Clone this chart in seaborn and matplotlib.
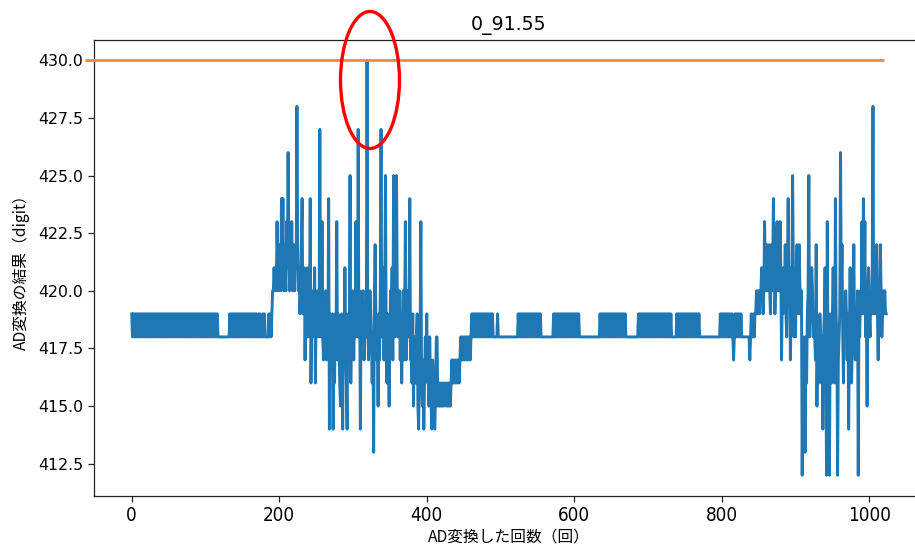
import numpy as np
import pandas as pd
import matplotlib
matplotlib.use("Agg")
import matplotlib.pyplot as plt
from matplotlib.patches import Ellipse
from matplotlib import font_manager
from matplotlib.font_manager import FontProperties
import seaborn as sns

# ---- text ----
title_text = "0_91.55"
x_label = "AD変換した回数（回）"
y_label = "AD変換の結果（digit）"
limit_value = 430

# ---- A/D conversion results (digit), one value per conversion ----
# conversions 0-189: quiet baseline
baseline_start = [
    419, 418, 419, 418, 419, 418, 419, 418, 419, 418,
    419, 418, 419, 418, 419, 418, 419, 418, 419, 418,
    419, 418, 419, 418, 419, 418, 419, 418, 419, 418,
    419, 418, 419, 418, 419, 418, 419, 418, 419, 418,
    419, 418, 419, 418, 419, 418, 419, 418, 419, 418,
    419, 418, 419, 418, 419, 418, 419, 418, 419, 418,
    419, 418, 419, 418, 419, 418, 419, 418, 419, 418,
    419, 418, 419, 418, 419, 418, 419, 418, 419, 418,
    419, 418, 419, 418, 419, 418, 419, 418, 419, 418,
    419, 418, 419, 418, 419, 418, 419, 418, 419, 418,
    419, 418, 419, 418, 419, 418, 419, 418, 419, 418,
    419, 418, 419, 418, 419, 418, 419,
    418, 418, 418, 418, 418, 418, 418, 418, 418, 418, 418, 418, 418, 418, 418, 418,
    419, 418,
    419, 418, 419, 418, 419, 418, 419, 418, 419, 418,
    419, 418, 419, 418, 419, 418, 419, 418, 419, 418,
    419, 418, 419, 418, 419, 418, 419, 418, 419, 418,
    419,
    418, 419, 418, 419, 418, 418, 419, 418, 419, 418,
    418, 418, 419, 418, 419, 418, 418, 418, 418, 418,
    419, 418, 419, 418,
]

# conversions 190-459: first disturbance
burst_first = [
    419, 420, 420, 421, 420, 421, 420, 423, 421, 420,
    422, 421, 420, 424, 421, 424, 420, 422, 421, 420,
    423, 421, 426, 422, 420, 421, 421, 423, 420, 422,
    421, 420, 422, 421, 428, 422, 420, 421, 419, 420,
    422, 424, 419, 420, 421, 417, 420, 419, 421, 418,
    420, 419, 424, 416, 419, 418, 420, 419, 421, 416,
    419, 418, 420, 419, 418, 427, 419, 418, 423, 418,
    417, 419, 418, 420, 417, 419, 418, 424, 414, 419,
    418, 417, 419, 414, 418, 416, 419, 418, 423, 417,
    419, 418, 416, 415, 418, 419, 414, 418, 417, 421,
    418, 416, 414, 419, 417, 418, 425, 416, 419, 418,
    420, 417, 419, 418, 423, 419, 418, 427, 418, 420,
    414, 419, 418, 420, 420, 417, 418, 419, 418, 430,
    419, 417, 418, 420, 419, 418, 416, 418, 413, 420,
    422, 419, 417, 418, 415, 419, 417, 420, 427, 418,
    419, 421, 417, 420, 425, 418, 416, 419, 417, 415,
    418, 420, 419, 421, 417, 425, 420, 418, 419, 425,
    420, 418, 419, 420, 417, 419, 416, 418, 420, 417,
    419, 423, 417, 418, 420, 418, 419, 424, 417, 418,
    416, 419, 415, 418, 417, 416, 418, 419, 415, 414,
    417, 418, 423, 416, 415, 417, 414, 416, 418, 417,
    419, 416, 417, 415, 418, 416, 415, 414, 417, 416,
    415, 414, 416, 418, 418, 415, 416, 415, 416, 415,
    416, 415, 416, 415, 416, 416, 415, 416, 415, 416,
    415, 416, 415, 416, 417, 416, 417, 416, 417, 416,
    417, 416, 417, 417, 416, 417, 418, 417, 418, 417,
    418, 417, 418, 418, 417, 418, 417, 418, 418, 417,
]

# conversions 460-849: settled baseline
baseline_mid = [
    418,
    419, 418, 419, 418, 419, 418, 419, 418, 419, 418,
    419, 418, 419, 418, 419, 418, 419, 418, 419, 418,
    419, 418, 419, 418, 419, 418, 419, 418, 419, 418,
    418, 418, 418, 418, 418,
    419,
    418, 418, 418, 418, 418, 418, 418, 418, 418, 418,
    418, 418, 418, 418, 418, 418, 418, 418, 418, 418,
    418, 418, 418, 418, 418, 418, 418,
    419, 418, 419, 418, 419, 418, 419, 418, 419, 418,
    419, 418, 419, 418, 419, 418, 419, 418, 419, 418,
    419, 418, 419, 418, 419, 418, 419, 418, 419, 418,
    419, 418,
    418, 418, 418, 418, 418, 418, 418, 418, 418, 418,
    418, 418, 418, 418, 418, 418,
    419, 418, 419, 418, 419, 418, 419, 418, 419, 418,
    419, 418, 419, 418, 419, 418, 419, 418, 419, 418,
    419, 418, 419, 418, 419, 418, 419, 418, 419, 418,
    419, 418, 419, 418, 419, 418,
    418, 418, 418, 418, 418, 418, 418, 418, 418, 418,
    418, 418, 418, 418, 418, 418, 418, 418, 418, 418,
    418, 418, 418, 418, 418, 418, 418,
    419, 418, 419, 418, 419, 418, 419, 418, 419, 418,
    419, 418, 419, 418, 419, 418, 419, 418, 419, 418,
    419, 418, 419, 418, 419, 418, 419, 418, 419, 418,
    419, 418, 419, 418, 419, 418,
    418, 418, 418, 418, 418, 418, 418, 418, 418, 418,
    418, 418, 418, 418, 418, 418,
    419, 418, 419, 418, 419, 418, 419, 418, 419, 418,
    419, 418, 419, 418, 419, 418, 419, 418, 419, 418,
    419, 418, 419, 418, 419, 418, 419, 418, 419, 418,
    419, 418, 419, 418, 419, 418, 419, 418, 419, 418,
    419, 418, 419, 418, 419,
    418, 418, 418, 418, 418, 418, 418,
    419, 418, 419, 418, 419, 418, 419, 418, 419, 418,
    419, 418, 419, 418, 419, 418, 419, 418, 419, 418,
    419, 418, 419, 418, 419, 418, 419, 418, 419, 418,
    419, 418,
    418, 418, 418, 418, 418, 418, 418, 418, 418, 418,
    418, 418, 418, 418, 418, 418, 418, 418, 418, 418,
    418, 418, 418, 418, 418, 418, 418,
    419, 418, 419, 418, 419, 418, 419, 418, 419, 418,
    419, 418, 419, 418, 419, 418, 419, 418, 417, 418,
    419, 418, 419, 418, 419, 418, 419, 418, 419, 418,
    418, 418, 418, 418, 418, 418, 418, 418, 418, 418,
    417,
    418, 419, 418, 418, 419, 418, 419,
    419, 420, 419, 420,
]

# conversions 850-1023: second disturbance
burst_second = [
    420, 419, 420, 420, 421, 420, 419, 420, 423, 421,
    420, 422, 420, 421, 422, 420, 419, 422, 420, 421,
    424, 421, 419, 420, 422, 423, 420, 421, 420, 423,
    421, 417, 420, 419, 421, 420, 422, 419, 418, 421,
    424, 420, 421, 417, 419, 420, 425, 421, 418, 420,
    418, 421, 422, 420, 419, 422, 420, 419, 420, 412,
    417, 418, 416, 413, 418, 416, 419, 420, 425, 418,
    419, 420, 421, 420, 418, 419, 418, 417, 422, 415,
    418, 416, 417, 419, 418, 416, 418, 414, 418, 419,
    421, 418, 412, 423, 417, 418, 412, 419, 417, 416,
    419, 421, 418, 416, 424, 419, 418, 412, 417, 418,
    419, 426, 420, 422, 418, 416, 419, 418, 420, 419,
    417, 419, 414, 418, 421, 417, 416, 418, 419, 422,
    418, 417, 419, 418, 420, 412, 419, 418, 420, 419,
    423, 419, 424, 420, 423, 418, 419, 415, 420, 421,
    419, 418, 420, 419, 421, 428, 419, 420, 419, 420,
    422, 419, 417, 420, 419, 422, 420, 418, 419, 420,
    419, 420, 419, 419,
]

readings = baseline_start + burst_first + baseline_mid + burst_second
df = pd.DataFrame({"count": np.arange(len(readings)), "result": readings})

# ---- fonts ----
plt.rcParams["font.family"] = ["DejaVu Sans", "Noto Sans CJK JP"]
jp_font = ["Noto Sans CJK JP", "DejaVu Sans"]


def narrow_tick_font(size):
    """Pick a condensed face for the count tick labels if one is installed."""
    for entry in font_manager.fontManager.ttflist:
        fname = entry.fname.lower().replace("-", "")
        if "liberationsansnarrowregular" in fname or fname.endswith("dejavusanscondensed.ttf"):
            return FontProperties(fname=entry.fname, size=size)
    return FontProperties(family="Noto Sans CJK JP", size=size - 1)


W, H = 915, 550
fig = plt.figure(figsize=(W / 100, H / 100), dpi=100)
fig.patch.set_facecolor("white")
# axes box runs a little past the right edge of the canvas
ax = fig.add_axes([94 / W, 54 / H, 830 / W, 456.5 / H])

sns.lineplot(data=df, x="count", y="result", ax=ax, color="#1f77b4",
             linewidth=2.1, estimator=None)

# limit line at the upper value
ax.plot([-64, 1020], [limit_value, limit_value], color="#f5873f",
        linewidth=2.0, clip_on=False, solid_capstyle="butt", zorder=5)

ax.set_xlim(-51.15, 1074.15)
ax.set_ylim(411.1, 430.9)
ax.set_xticks([0, 200, 400, 600, 800, 1000])
ax.set_yticks([412.5, 415.0, 417.5, 420.0, 422.5, 425.0, 427.5, 430.0])
ax.set_yticklabels([f"{v:.1f}" for v in ax.get_yticks()])

ax.tick_params(axis="both", length=4.0, width=0.9, colors="#222222", labelcolor="black")
ax.tick_params(axis="y", labelsize=11.3, pad=3.9)
ax.tick_params(axis="x", pad=3.5)
xfont = narrow_tick_font(13.5)
ax.set_xticklabels(["0", "200", "400", "600", "800", "1000"], fontproperties=xfont)

for side in ["left", "bottom", "top"]:
    ax.spines[side].set_linewidth(0.9)
    ax.spines[side].set_color("#222222")
ax.spines["right"].set_visible(False)

ax.set_title(title_text, fontsize=13.6, pad=6.8)
ax.set_xlabel(x_label, family=jp_font, fontsize=11.3, labelpad=2)
ax.set_ylabel(y_label, family=jp_font, fontsize=11.3, labelpad=6)

# highlight around the peak reading
fig.add_artist(Ellipse((370 / W, 1 - 80 / H), 59 / W, 137 / H,
                       transform=fig.transFigure, fill=False,
                       edgecolor="#ff0000", linewidth=2.4, zorder=10))

fig.savefig("out.png", dpi=100, facecolor="white")
